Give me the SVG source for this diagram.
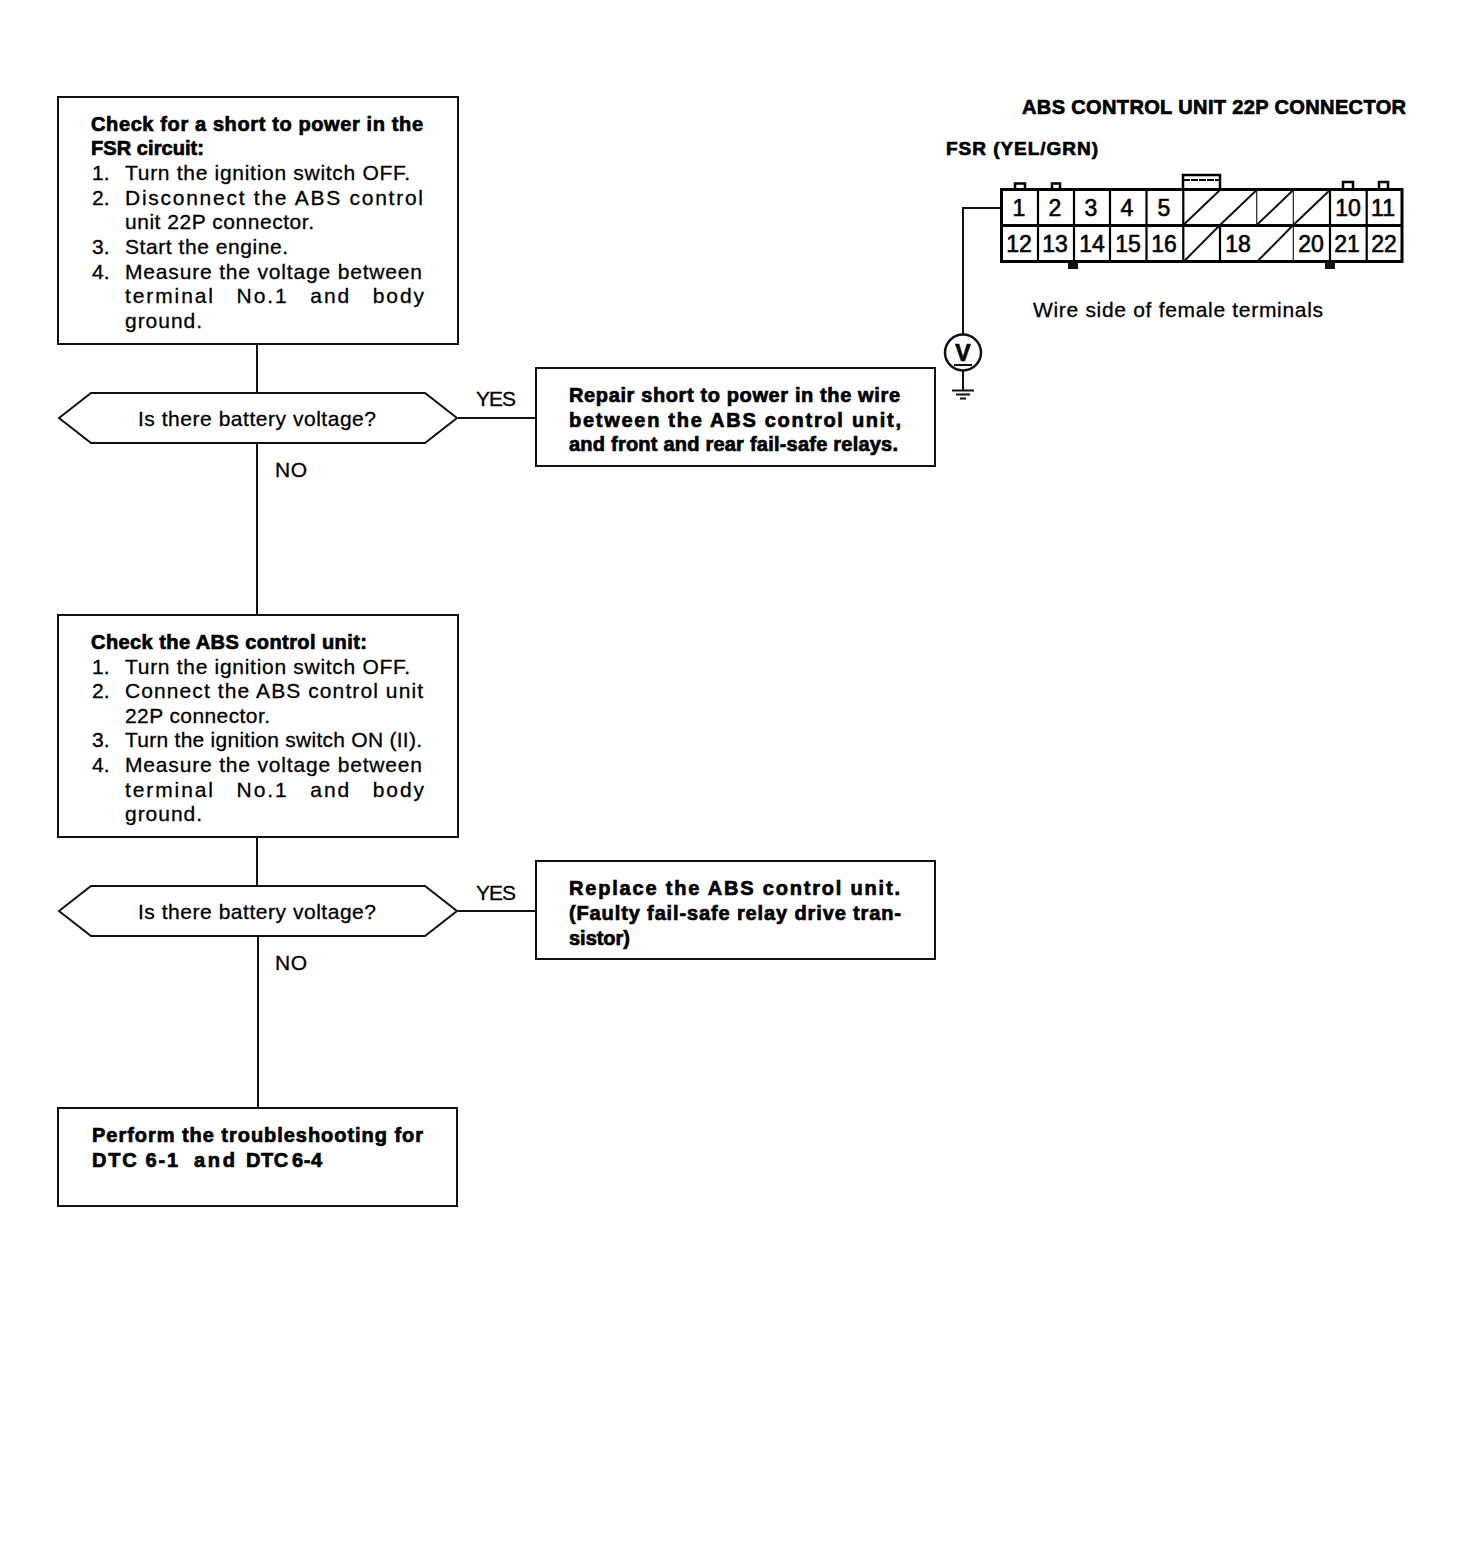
<svg xmlns="http://www.w3.org/2000/svg" width="1472" height="1566" viewBox="0 0 1472 1566">
<style>
text{font-family:"Liberation Sans",Arial,sans-serif;font-size:21px;fill:#000;stroke:#000;stroke-width:.3px}
.b{font-weight:bold;font-size:20px;stroke-width:.7px}
.box{fill:#fff;stroke:#111;stroke-width:2}
.ln{fill:none;stroke:#111;stroke-width:2}
.th{fill:none;stroke:#222;stroke-width:1.200}
.t{stroke:#000;stroke-width:3;fill:none}
.c{font-size:23px;text-anchor:middle;stroke-width:.6px}
</style>
<rect width="1472" height="1566" fill="#fff"/>
<g id="connectors">
<path class="ln" d="M257 344V393M257 443V615M458 418H536M257 837V886M258 936V1108M458 911H536"/>
<path class="ln" d="M1001 208H963V335"/>
</g>
<g id="n1">
<rect class="box" x="58" y="97" width="400" height="247"/>
<text class="b" x="91" y="131" textLength="332" lengthAdjust="spacing">Check for a short to power in the</text>
<text class="b" x="91" y="155" textLength="113" lengthAdjust="spacing">FSR circuit:</text>
<text x="92" y="180">1.</text><text x="125" y="180" textLength="285" lengthAdjust="spacing">Turn the ignition switch OFF.</text>
<text x="92" y="205">2.</text><text x="125" y="205" textLength="298" lengthAdjust="spacing">Disconnect the ABS control</text>
<text x="125" y="229" textLength="189" lengthAdjust="spacing">unit 22P connector.</text>
<text x="92" y="254">3.</text><text x="125" y="254" textLength="163" lengthAdjust="spacing">Start the engine.</text>
<text x="92" y="279">4.</text><text x="125" y="279" textLength="297" lengthAdjust="spacing">Measure the voltage between</text>
<text x="125" y="303" textLength="299" lengthAdjust="spacing" word-spacing="14">terminal No.1 and body</text>
<text x="125" y="328" textLength="77" lengthAdjust="spacing">ground.</text>
</g>
<g id="d1">
<polygon class="box" points="59,418 91,393 425,393 457,418 425,443 91,443"/>
<text x="257" y="426" text-anchor="middle" textLength="238" lengthAdjust="spacing">Is there battery voltage?</text>
</g>
<text id="l-yes1" x="476" y="406" textLength="40" lengthAdjust="spacing">YES</text>
<text id="l-no1" x="275" y="477" textLength="32" lengthAdjust="spacing">NO</text>
<g id="n2">
<rect class="box" x="536" y="368" width="399" height="98"/>
<text class="b" x="569" y="402" textLength="331" lengthAdjust="spacing">Repair short to power in the wire</text>
<text class="b" x="569" y="427" textLength="332" lengthAdjust="spacing">between the ABS control unit,</text>
<text class="b" x="569" y="451" textLength="329" lengthAdjust="spacing">and front and rear fail-safe relays.</text>
</g>
<g id="n3">
<rect class="box" x="58" y="615" width="400" height="222"/>
<text class="b" x="91" y="649" textLength="276" lengthAdjust="spacing">Check the ABS control unit:</text>
<text x="92" y="674">1.</text><text x="125" y="674" textLength="285" lengthAdjust="spacing">Turn the ignition switch OFF.</text>
<text x="92" y="698">2.</text><text x="125" y="698" textLength="298" lengthAdjust="spacing">Connect the ABS control unit</text>
<text x="125" y="723" textLength="145" lengthAdjust="spacing">22P connector.</text>
<text x="92" y="747">3.</text><text x="125" y="747" textLength="297" lengthAdjust="spacing">Turn the ignition switch ON (II).</text>
<text x="92" y="772">4.</text><text x="125" y="772" textLength="297" lengthAdjust="spacing">Measure the voltage between</text>
<text x="125" y="797" textLength="299" lengthAdjust="spacing" word-spacing="14">terminal No.1 and body</text>
<text x="125" y="821" textLength="77" lengthAdjust="spacing">ground.</text>
</g>
<g id="d2">
<polygon class="box" points="59,911 91,886 425,886 457,911 425,936 91,936"/>
<text x="257" y="919" text-anchor="middle" textLength="238" lengthAdjust="spacing">Is there battery voltage?</text>
</g>
<text id="l-yes2" x="476" y="900" textLength="40" lengthAdjust="spacing">YES</text>
<text id="l-no2" x="275" y="970" textLength="32" lengthAdjust="spacing">NO</text>
<g id="n4">
<rect class="box" x="536" y="861" width="399" height="98"/>
<text class="b" x="569" y="895" textLength="331" lengthAdjust="spacing">Replace the ABS control unit.</text>
<text class="b" x="569" y="920" textLength="332" lengthAdjust="spacing">(Faulty fail-safe relay drive tran-</text>
<text class="b" x="569" y="945" textLength="61" lengthAdjust="spacing">sistor)</text>
</g>
<g id="n5">
<rect class="box" x="58" y="1108" width="399" height="98"/>
<text class="b" x="92" y="1142" textLength="331" lengthAdjust="spacing">Perform the troubleshooting for</text>
<text class="b" x="92" y="1167" textLength="86" lengthAdjust="spacing">DTC 6-1</text>
<text class="b" x="194" y="1167" textLength="41" lengthAdjust="spacing">and</text>
<text class="b" x="246" y="1167" textLength="76" lengthAdjust="spacing" word-spacing="-3">DTC 6-4</text>
</g>
<g id="connector-22p">
<text class="b" x="1022" y="114" textLength="384" lengthAdjust="spacing">ABS CONTROL UNIT 22P CONNECTOR</text>
<text class="b" x="946" y="155" style="font-size:19px" textLength="152" lengthAdjust="spacing">FSR (YEL/GRN)</text>
<rect class="t" x="1001.500" y="189.500" width="400.500" height="72" fill="#fff"/>
<path class="t" d="M1001 225.500H1402"/>
<path class="t" style="stroke-width:2.200" d="M1038 190V262M1074 190V268M1110 190V262M1146.500 190V262M1183.300 190V262M1220 225V262M1330 190V268M1366.700 190V262"/>
<path class="th" d="M1256.700 190V225M1293.300 190V262"/>
<path class="ln" d="M1183.300 225L1220 190M1220 225L1256.700 190M1256.700 225L1293.300 190M1293.300 225L1330 190M1183.300 262L1220 225M1256.700 262L1293.300 225"/>
<path class="t" style="stroke-width:2.500" d="M1015 189V183.500H1025V189M1052 189V183.500H1060V189M1343 189V182H1353V189M1379 189V182H1388V189M1183 189V175H1220V189"/>
<path class="ln" d="M1183 180H1220" stroke-dasharray="7 1"/>
<path style="fill:#111" d="M1068 262H1078V269H1068ZM1325 262H1335V269H1325Z"/>
<g>
<text class="c" x="1019" y="216">1</text><text class="c" x="1055" y="216">2</text><text class="c" x="1091" y="216">3</text><text class="c" x="1127" y="216">4</text><text class="c" x="1164" y="216">5</text><text class="c" x="1348" y="216">10</text><text class="c" x="1383" y="216">11</text>
<text class="c" x="1019" y="252">12</text><text class="c" x="1055" y="252">13</text><text class="c" x="1092" y="252">14</text><text class="c" x="1128" y="252">15</text><text class="c" x="1164" y="252">16</text><text class="c" x="1238" y="252">18</text><text class="c" x="1311" y="252">20</text><text class="c" x="1347" y="252">21</text><text class="c" x="1384" y="252">22</text>
</g>
<text x="1033" y="317" textLength="290" lengthAdjust="spacing">Wire side of female terminals</text>
</g>
<g id="voltmeter">
<circle class="ln" cx="963" cy="352.500" r="18" style="stroke-width:2.500"/>
<text class="b" x="963" y="361" text-anchor="middle" style="font-size:23px">V</text>
<path class="ln" d="M954 365H972M963 371V390M952 390.500H974M956 394.500H970M960 398.500H966"/>
</g>
</svg>
